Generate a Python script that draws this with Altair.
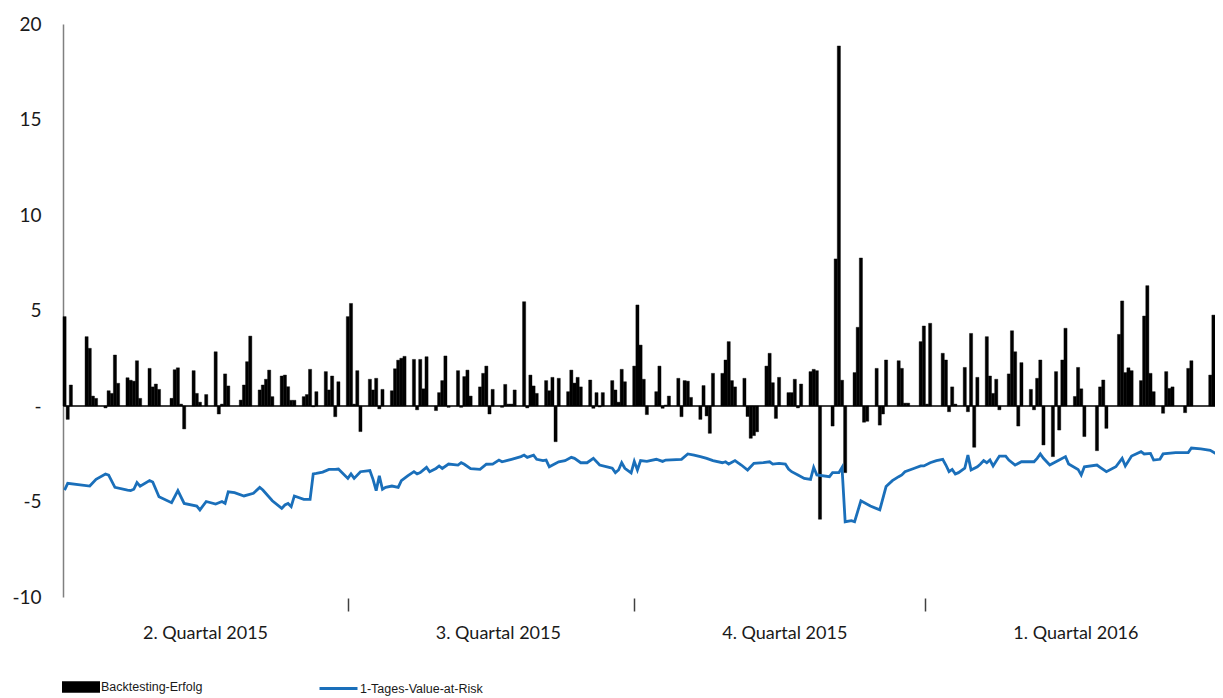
import json
import altair as alt
import pandas as pd

# ---- data (day index = days since 31.03.2015) ----
bar_day = [0, 1, 2, 7, 8, 9, 10, 13, 14, 15, 16, 17, 20, 21, 22, 23, 24, 27, 28, 29, 30,
           34, 35, 36, 37, 38, 41, 42, 43, 45, 48, 49, 50, 51, 52, 56, 57, 58, 59,
           62, 63, 64, 65, 66, 69, 70, 71, 72, 73, 76, 77, 78, 79, 80, 83, 84, 85, 86, 87,
           90, 91, 92, 93, 94, 97, 98, 99, 100, 101, 104, 105, 106, 107, 108,
           111, 112, 113, 114, 115, 118, 119, 120, 121, 122, 125, 126, 127, 128, 129,
           132, 133, 134, 135, 136, 139, 140, 141, 142, 143, 146, 147, 148, 149, 150,
           153, 154, 155, 156, 157, 160, 161, 162, 163, 164, 167, 168, 169, 170, 171,
           174, 175, 176, 177, 178, 181, 182, 183, 184, 185, 188, 189, 190, 191, 192,
           195, 196, 197, 198, 199, 202, 203, 204, 205, 206, 209, 210, 211, 212, 213,
           216, 217, 218, 219, 220, 223, 224, 225, 226, 227, 230, 231, 232, 233, 234,
           237, 238, 239, 240, 244, 245, 246, 247, 248, 251, 252, 253, 254, 255,
           258, 259, 260, 261, 265, 266, 267, 268, 272, 273, 274, 275,
           279, 280, 281, 282, 283, 286, 287, 288, 289, 290, 293, 294, 295, 296, 297,
           300, 301, 302, 303, 304, 307, 308, 309, 310, 311, 314, 315, 316, 317, 318,
           321, 322, 323, 324, 328, 329, 330, 331, 335, 336, 337, 338, 339,
           342, 343, 344, 345, 346, 349, 350, 351, 352, 356, 357, 358, 364, 365]
bar_value = [4.68, -0.70, 1.10, 3.63, 3.02, 0.52, 0.40, -0.10, 0.80, 0.66, 2.67, 1.19, 1.48, 1.35, 1.30, 2.37, 0.40, 1.97, 1.00, 1.15, 0.87,
             0.40, 1.90, 2.00, 0.10, -1.20, 1.85, 0.66, 0.20, 0.60, 2.84, -0.42, 0.10, 1.68, 1.05, 0.31, 1.10, 2.32, 3.66,
             0.84, 1.10, 1.40, 1.88, 0.49, 1.57, 1.62, 1.01, 0.30, 0.30, 0.49, 0.60, 1.92, -0.04, 0.75, 1.80, 0.84, 1.57, -0.56, 1.27,
             4.68, 5.37, 0.10, 1.85, -1.34, 1.40, 0.84, 1.45, -0.15, 0.87, 0.80, 1.95, 2.40, 2.50, 2.60,
             2.44, -0.20, 2.44, 0.90, 2.58, -0.24, 0.70, 1.33, 2.62, -0.07, 1.85, -0.07, 1.54, 1.88, 0.52,
             1.00, 1.71, 2.09, -0.42, 0.87, -0.07, 1.13, 0.10, 0.10, 0.84, 5.46, -0.10, 1.62, 1.05, 0.66,
             1.33, 0.80, 1.50, -1.87, 1.45, 0.75, 1.88, 1.20, 1.50, 1.00, 1.36, -0.12, 0.70, -0.05, 0.70,
             1.33, 0.84, 0.20, 1.92, 1.27, 2.09, 5.29, 3.19, 1.40, -0.45, 0.75, 2.09, -0.12, 0.05, 0.52,
             1.45, -0.56, 1.33, 1.30, 0.45, -0.70, 1.07, -0.52, -1.43, 1.71, 1.71, 2.41, 3.37, 1.33, 1.00,
             1.45, -0.55, -1.69, -1.55, -1.35, 2.09, 2.76, 1.22, -0.65, 1.50, 0.70, 0.70, 1.40, -0.10, 1.15,
             1.80, 1.92, 1.85, -5.93, -1.05, 7.70, 18.85, 1.35, -3.49, 1.75, 4.12, 7.75, -0.85, -0.80,
             1.97, -1.00, -0.42, 2.41, 2.37, 1.97, 0.15, 0.15, 3.37, 4.19, 0.10, 4.33,
             2.76, 2.41, -0.30, 1.00, 0.10, 2.02, -0.30, 3.80, -2.16, 1.50, 3.63, 1.57, 0.66, 1.40, -0.20,
             1.68, 3.94, 2.84, -1.05, 2.27, 0.87, -0.20, 1.45, 2.41, -2.04, -2.65, 1.80, -1.26, 2.41, 4.07,
             0.50, 2.02, 0.90, -1.60, -2.34, 1.00, 1.36, -1.17, 3.75, 5.50, 1.75, 2.00, 1.85,
             1.33, 4.71, 6.30, 1.71, 0.75, -0.38, 1.80, 0.92, 1.00, -0.35, 1.97, 2.37, 1.62, 4.76]

var_day = [0, 1, 8, 10, 13, 14, 16, 20, 21, 22, 23, 24, 27, 28, 30, 34, 36, 38, 42, 43,
           45, 48, 50, 51, 52, 54, 57, 60, 62, 63, 66, 69, 70, 71, 72, 73, 76, 78, 79, 80, 82, 84, 86, 87,
           90, 91, 92, 94, 97, 98, 99, 100, 101, 102, 104, 106, 107, 109, 111, 112, 113, 115, 116, 118,
           119, 120, 122, 125, 126, 127, 129, 132, 134,
           136, 138, 139, 142, 145, 146, 147, 149, 150, 152, 153, 154, 157, 159, 161, 162, 164, 166,
           168, 170, 173, 174, 175, 176, 177, 178, 180,
           181, 182, 183, 185, 188, 190, 191, 196, 198, 200, 202, 204, 206, 209, 210, 211, 213, 215,
           217, 219, 222, 224, 225, 227,
           229, 230, 231, 233, 235, 237, 238, 239, 243, 244, 246, 247, 248, 250, 251, 253, 256, 259,
           261, 263, 265, 266, 267, 270, 272,
           273, 275, 277, 279, 280, 281, 282, 283, 284, 286, 287, 288, 290, 291, 292, 293, 294, 295,
           297, 299, 300, 302, 304, 308, 309, 310, 311, 313, 316, 318,
           319, 322, 323, 324, 328, 329, 331, 334, 336, 337, 339, 342, 343, 345, 346, 348, 349, 353,
           357, 358, 361, 364, 366]
var_value = [-4.40, -4.05, -4.19, -3.84, -3.56, -3.62, -4.26, -4.40, -4.43, -4.36, -4.01, -4.20, -3.90, -3.98, -4.75, -5.06, -4.43, -5.10, -5.24, -5.44,
             -5.00, -5.13, -5.00, -5.10, -4.49, -4.54, -4.71, -4.57, -4.26, -4.40, -4.96, -5.36, -5.18, -5.10, -5.27, -4.71, -4.89, -4.89, -3.56, -3.53, -3.46, -3.32, -3.32, -3.30,
             -3.79, -3.56, -3.79, -3.44, -3.38, -3.84, -4.43, -3.66, -4.36, -4.26, -4.19, -4.26, -3.91, -3.66, -3.44, -3.56, -3.49, -3.21, -3.44, -3.27,
             -3.14, -3.27, -3.04, -3.09, -2.97, -3.05, -3.28, -3.32, -3.05,
             -3.04, -2.83, -2.92, -2.79, -2.65, -2.57, -2.69, -2.57, -2.79, -2.86, -2.83, -3.18, -2.92, -2.86, -2.69, -2.74, -2.97, -2.97,
             -2.74, -3.09, -3.21, -3.26, -3.49, -3.35, -2.97, -3.26, -3.50,
             -2.90, -3.35, -2.86, -2.90, -2.79, -2.90, -2.83, -2.79, -2.51, -2.57, -2.65, -2.74, -2.86, -2.97, -2.92, -3.04, -2.86, -3.09,
             -3.35, -3.00, -2.97, -2.92, -3.04, -3.00,
             -3.04, -3.30, -3.44, -3.61, -3.79, -3.84, -3.21, -3.61, -3.70, -3.49, -3.49, -3.21, -6.06, -6.00, -6.06, -4.96, -5.24, -5.44,
             -4.22, -3.91, -3.70, -3.61, -3.44, -3.26, -3.14,
             -3.14, -2.97, -2.86, -2.79, -3.09, -3.44, -3.32, -3.56, -3.49, -3.26, -2.57, -3.35, -3.18, -3.04, -2.86, -2.97, -2.83, -3.14,
             -2.62, -2.62, -2.83, -3.09, -2.92, -2.92, -2.74, -2.51, -2.74, -3.09, -2.83, -2.65,
             -3.04, -3.32, -3.61, -3.18, -3.09, -3.21, -3.44, -3.18, -2.74, -3.14, -2.62, -2.39, -2.51, -2.48, -2.83, -2.79, -2.51, -2.44,
             -2.44, -2.20, -2.25, -2.32, -2.51]

quarter_start = [0, 90.5, 181.5, 274]
quarter_label = ["2. Quartal 2015", "3. Quartal 2015", "4. Quartal 2015", "1. Quartal 2016"]
y_ticks = [-10, -5, 0, 5, 10, 15, 20]

BAR_NAME = "Backtesting-Erfolg"
VAR_NAME = "1-Tages-Value-at-Risk"

bars_df = pd.DataFrame({"day": bar_day, "value": bar_value})
bars_df["day_end"] = bars_df["day"] + 1
bars_df["series"] = BAR_NAME
var_df = pd.DataFrame({"day": [d + 0.5 for d in var_day], "value": var_value})
var_df["series"] = VAR_NAME

FONT = "Lato"
LEGEND_FONT = "Liberation Sans"
x_scale = alt.Scale(domain=[0, 366], nice=False, zero=False)
y_scale = alt.Scale(domain=[-10, 20], nice=False)

q_expr = "{}[indexof({}, datum.value)]".format(json.dumps(quarter_label), json.dumps(quarter_start))

x_axis = alt.Axis(values=quarter_start, labelExpr=q_expr, title=None, grid=False,
                  domain=False, ticks=True, tickSize=13, tickWidth=1.5, tickColor="#404040",
                  tickOpacity={"condition": {"test": "datum.value == 0", "value": 0}, "value": 1},
                  offset=1,
                  labelOffset={"condition": {"test": "datum.value == 0", "value": 142}, "value": 150},
                  labelFlush=False, labelOverlap=False,
                  labelPadding=13, labelFont=FONT, labelFontSize=18, labelColor="#1a1a1a")
y_axis = alt.Axis(values=y_ticks,
                  labelExpr="datum.value == 0 ? '-\u00a0\u00a0' : replace(datum.label, '\u2212', '-')",
                  title=None, grid=False, ticks=False, domain=True, domainColor="#808080",
                  domainWidth=1.5, labelPadding=22, labelFont=FONT, labelFontSize=19,
                  labelColor="#1a1a1a")

zero = alt.Chart(bars_df).mark_rule(color="#404040", strokeWidth=1).encode(
    y=alt.datum(0, scale=y_scale))

bars = alt.Chart(bars_df).mark_bar(stroke="black", strokeWidth=0.4).encode(
    x=alt.X("day:Q", scale=x_scale, axis=x_axis),
    x2="day_end:Q",
    y=alt.Y("value:Q", scale=y_scale, axis=y_axis),
    y2=alt.datum(0),
    fill=alt.Fill("series:N", scale=alt.Scale(domain=[BAR_NAME], range=["black"]),
                  legend=alt.Legend(orient="none", legendX=-1, legendY=644, title=None,
                                    symbolType="M-1,-0.3H1V0.3H-1Z", symbolSize=1444,
                                    symbolStrokeWidth=0, labelOffset=1,
                                    labelFont=LEGEND_FONT, labelFontSize=12.5,
                                    labelColor="#1a1a1a")),
)

line = alt.Chart(var_df).mark_line(strokeWidth=2.8, clip=True).encode(
    x=alt.X("day:Q", scale=x_scale),
    y=alt.Y("value:Q", scale=y_scale),
    stroke=alt.Stroke("series:N", scale=alt.Scale(domain=[VAR_NAME], range=["#1a6fba"]),
                      legend=alt.Legend(orient="none", legendX=255, legendY=644, title=None,
                                        symbolType="stroke", symbolSize=1444,
                                        symbolStrokeWidth=3, labelOffset=1,
                                        labelFont=LEGEND_FONT, labelFontSize=12.5,
                                        labelColor="#1a1a1a")),
)

chart = alt.layer(zero, bars, line).properties(
    width=1152, height=573,
    autosize=alt.AutoSizeParams(type="none"),
    padding={"left": 55, "top": 16, "right": 0, "bottom": 101},
    background="white",
).configure_view(stroke=None)

chart.save("out.html", embed_options={"renderer": "svg", "actions": False})
